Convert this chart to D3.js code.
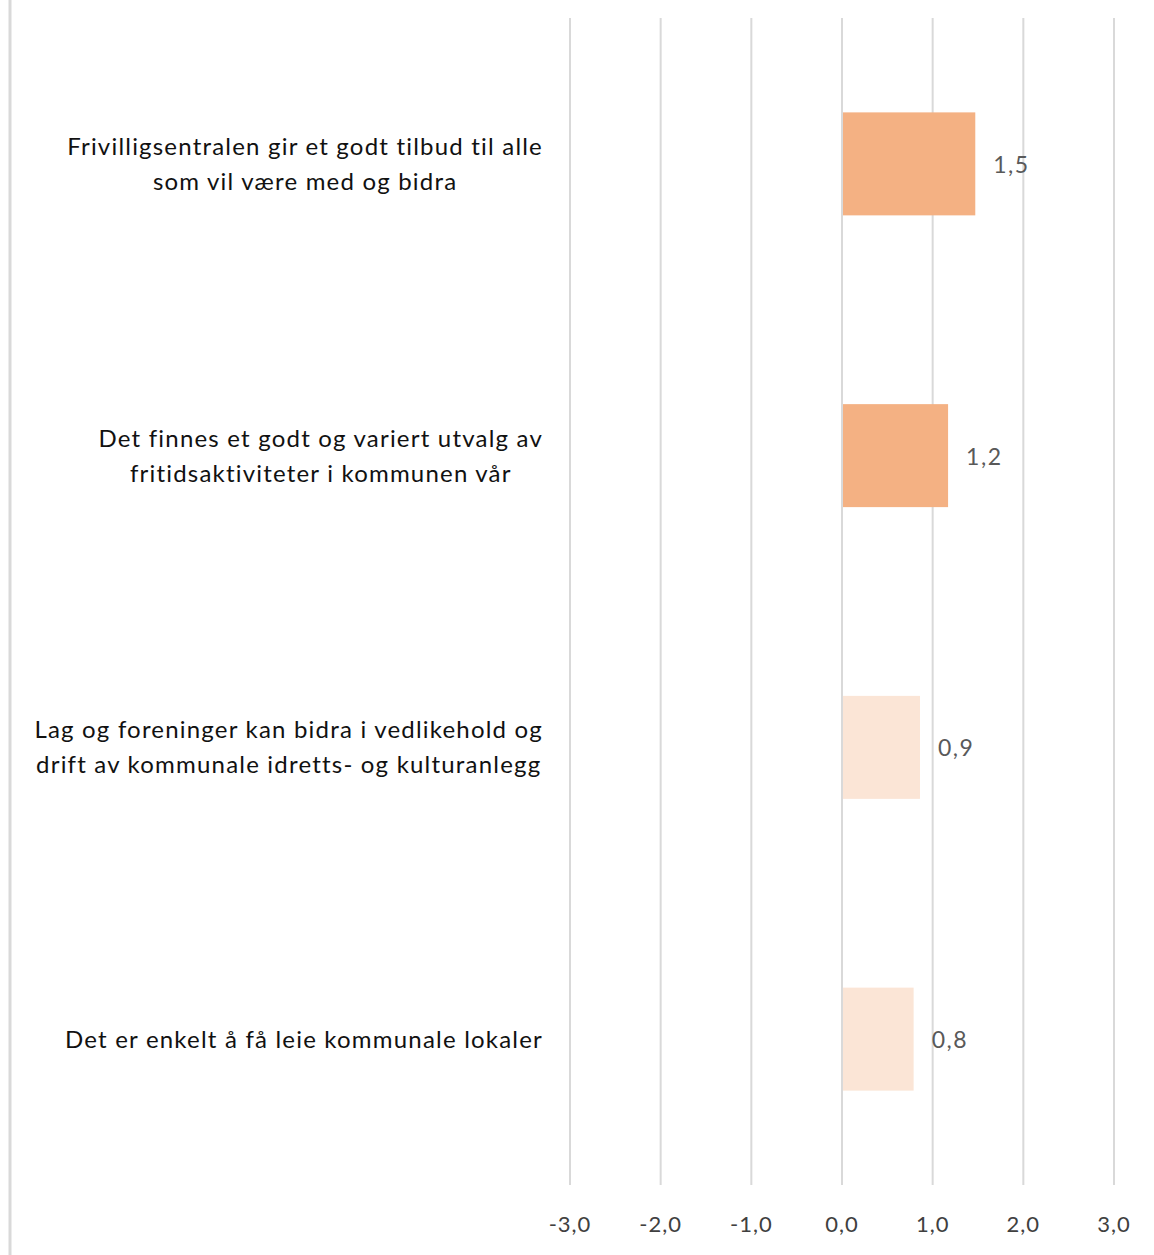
<!DOCTYPE html>
<html lang="no">
<head>
<meta charset="utf-8">
<script src="https://d3js.org/d3.v7.min.js"></script>
<style>
  body { margin: 0; background: #fff; }
  svg text { font-family: Lato, "Open Sans", sans-serif; font-variant-ligatures: none; }
</style>
</head>
<body>
<svg id="chart" width="1154" height="1255"></svg>
<script>
// categories (top to bottom), each split into display lines
var categories = [
  ["Frivilligsentralen gir et godt tilbud til alle", "som vil være med og bidra"],
  ["Det finnes et godt og variert utvalg av", "fritidsaktiviteter i kommunen vår"],
  ["Lag og foreninger kan bidra i vedlikehold og", "drift av kommunale idretts- og kulturanlegg"],
  ["Det er enkelt å få leie kommunale lokaler"]
];
var values = [1.47, 1.17, 0.86, 0.79];
var shades = ["dark", "dark", "light", "light"];
var ticks = [-3, -2, -1, 0, 1, 2, 3];

var svg = d3.select("#chart");

var margin = {top: 18, bottom: 70, left: 570, right: 40};
var width = 1154, height = 1255;

var x = d3.scaleLinear().domain([-3, 3]).range([570, 1114]);
var y = d3.scaleBand()
    .domain(d3.range(categories.length))
    .range([margin.top, 1185])
    .paddingInner(0.647)
    .paddingOuter(0.3235);

var fill = {dark: "#F4B183", light: "#FBE5D6"};
var fmt = function(v) { return d3.format(".1f")(v).replace(".", ",").replace("\u2212", "-"); };

/* left frame line */
svg.append("line")
    .attr("x1", 10).attr("x2", 10)
    .attr("y1", 0).attr("y2", height)
    .attr("stroke", "#d9d9d9").attr("stroke-width", 3);

/* gridlines */
svg.append("g")
  .selectAll("line")
  .data(ticks)
  .enter().append("line")
    .attr("x1", function(d) { return x(d); })
    .attr("x2", function(d) { return x(d); })
    .attr("y1", margin.top)
    .attr("y2", 1185)
    .attr("stroke", "#d9d9d9")
    .attr("stroke-width", 2);

/* bars */
svg.append("g")
  .selectAll("rect")
  .data(values)
  .enter().append("rect")
    .attr("x", x(0) + 1)
    .attr("y", function(d, i) { return y(i); })
    .attr("width", function(d) { return x(d) - x(0) - 1; })
    .attr("height", y.bandwidth())
    .attr("fill", function(d, i) { return fill[shades[i]]; });

/* value labels */
svg.append("g")
  .selectAll("text")
  .data(values)
  .enter().append("text")
    .attr("x", function(d) { return x(d) + 18; })
    .attr("y", function(d, i) { return y(i) + y.bandwidth() / 2 + 1; })
    .attr("dy", "0.35em")
    .attr("fill", "#595959")
    .attr("font-size", 23)
    .attr("letter-spacing", 1.5)
    .text(fmt);

/* axis tick labels */
svg.append("g")
  .selectAll("text")
  .data(ticks)
  .enter().append("text")
    .attr("x", function(d) { return x(d); })
    .attr("y", 1224)
    .attr("dy", "0.35em")
    .attr("text-anchor", "middle")
    .attr("fill", "#404040")
    .attr("font-size", 22)
    .attr("letter-spacing", 1)
    .text(fmt);

/* category labels: block right-aligned at 543, lines centered within block */
var lineH = 35;
categories.forEach(function(lines, i) {
  var g = svg.append("g");
  var cy = y(i) + y.bandwidth() / 2;
  var texts = g.selectAll("text")
    .data(lines)
    .enter().append("text")
      .attr("font-size", 24)
      .attr("letter-spacing", 1.2)
      .attr("fill", "#111")
      .attr("dy", "0.35em")
      .attr("y", function(d, j) { return cy + (j - (lines.length - 1) / 2) * lineH; })
      .attr("text-anchor", "middle")
      .text(function(d) { return d; });
  var maxW = 0;
  texts.each(function() { maxW = Math.max(maxW, this.getComputedTextLength()); });
  texts.attr("x", 543 - maxW / 2);
});
</script>
</body>
</html>
